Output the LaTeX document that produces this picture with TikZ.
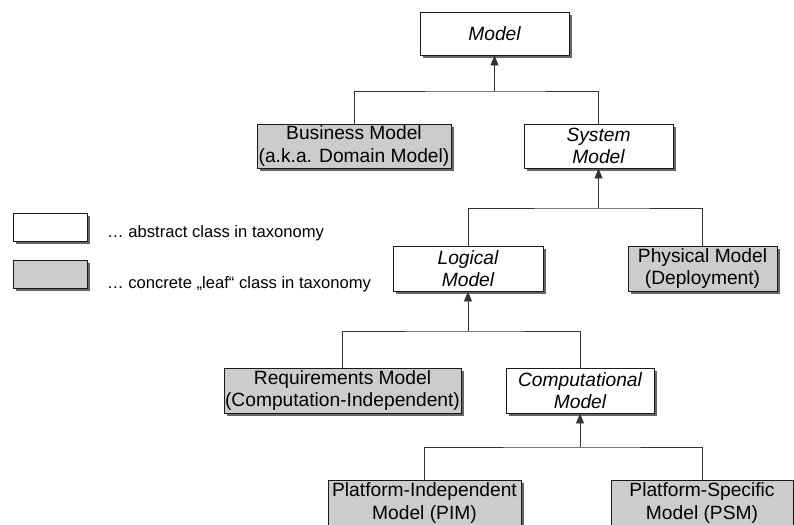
\documentclass[tikz,border=0pt]{standalone}
\usepackage{fontspec}
\setmainfont{Liberation Sans}
\usetikzlibrary{shadows,arrows.meta}
\begin{document}
\begin{tikzpicture}[x=1pt,y=-1pt,
  cls/.style={draw=black!90, line width=0.9pt, fill=white, align=center,
    inner sep=0pt, font=\fontsize{19.2}{22.7}\selectfont,
    drop shadow={shadow xshift=3pt, shadow yshift=-3pt, fill=black!60, opacity=1}},
  dims/.style 2 args={minimum width=#1, minimum height=#2},
  abstract/.style={cls, font=\fontsize{19.2}{22.7}\selectfont\itshape},
  leaf/.style={cls, fill=black!20},
  link/.style={draw=black!80, line width=0.8pt},
  gen/.style={link, -{Triangle[length=10pt, width=8pt]}},
  legendtext/.style={anchor=base west, inner sep=0pt, font=\fontsize{16.6}{19}\selectfont}]

\clip (0,0) rectangle (794,524);

% class boxes
\node[abstract, dims={149}{43}] (model) at (494.5,33.5) {Model};
\node[leaf, dims={194}{44}] (bm) at (354,146) {Business Model\\(a.k.a. Domain Model)};
\node[abstract, dims={149}{44}] (sm) at (598.5,146) {System\\Model};
\node[abstract, dims={150}{45}] (lm) at (468,268.5) {Logical\\Model};
\node[leaf, dims={149}{45}] (pm) at (702.5,268.5) {Physical Model\\(Deployment)};
\node[leaf, dims={237}{45}] (rm) at (342.5,390.5) {Requirements Model\\(Computation-Independent)};
\node[abstract, dims={148}{45}] (cm) at (580,390.5) {Computational\\Model};
\node[leaf, dims={193}{46}] (pim) at (424.5,503) {Platform-Independent\\Model (PIM)};
\node[leaf, dims={182}{46}] (psm) at (702,503) {Platform-Specific\\Model (PSM)};

% generalisation junctions
\coordinate (j1) at (494.5,91);
\coordinate (j2) at (598.5,208);
\coordinate (j3) at (468,331);
\coordinate (j4) at (580,447);

\draw[link] (bm.north) |- (j1) -| (sm.north);
\draw[gen] (j1) -- (model.south);
\draw[link] (lm.north) |- (j2) -| (pm.north);
\draw[gen] (j2) -- (sm.south);
\draw[link] (rm.north) |- (j3) -| (cm.north);
\draw[gen] (j3) -- (lm.south);
\draw[link] (pim.north) |- (j4) -| (psm.north);
\draw[gen] (j4) -- (cm.south);

% legend
\node[cls, dims={74}{28}] (lgabs) at (50,227) {};
\node[leaf, dims={74}{28}] (lgleaf) at (50,274) {};
\node[legendtext] (lgabstxt) at (107,237) {… abstract class in taxonomy};
\node[legendtext] (lgleaftxt) at (107,288) {… concrete „leaf“ class in taxonomy};
\end{tikzpicture}
\end{document}
